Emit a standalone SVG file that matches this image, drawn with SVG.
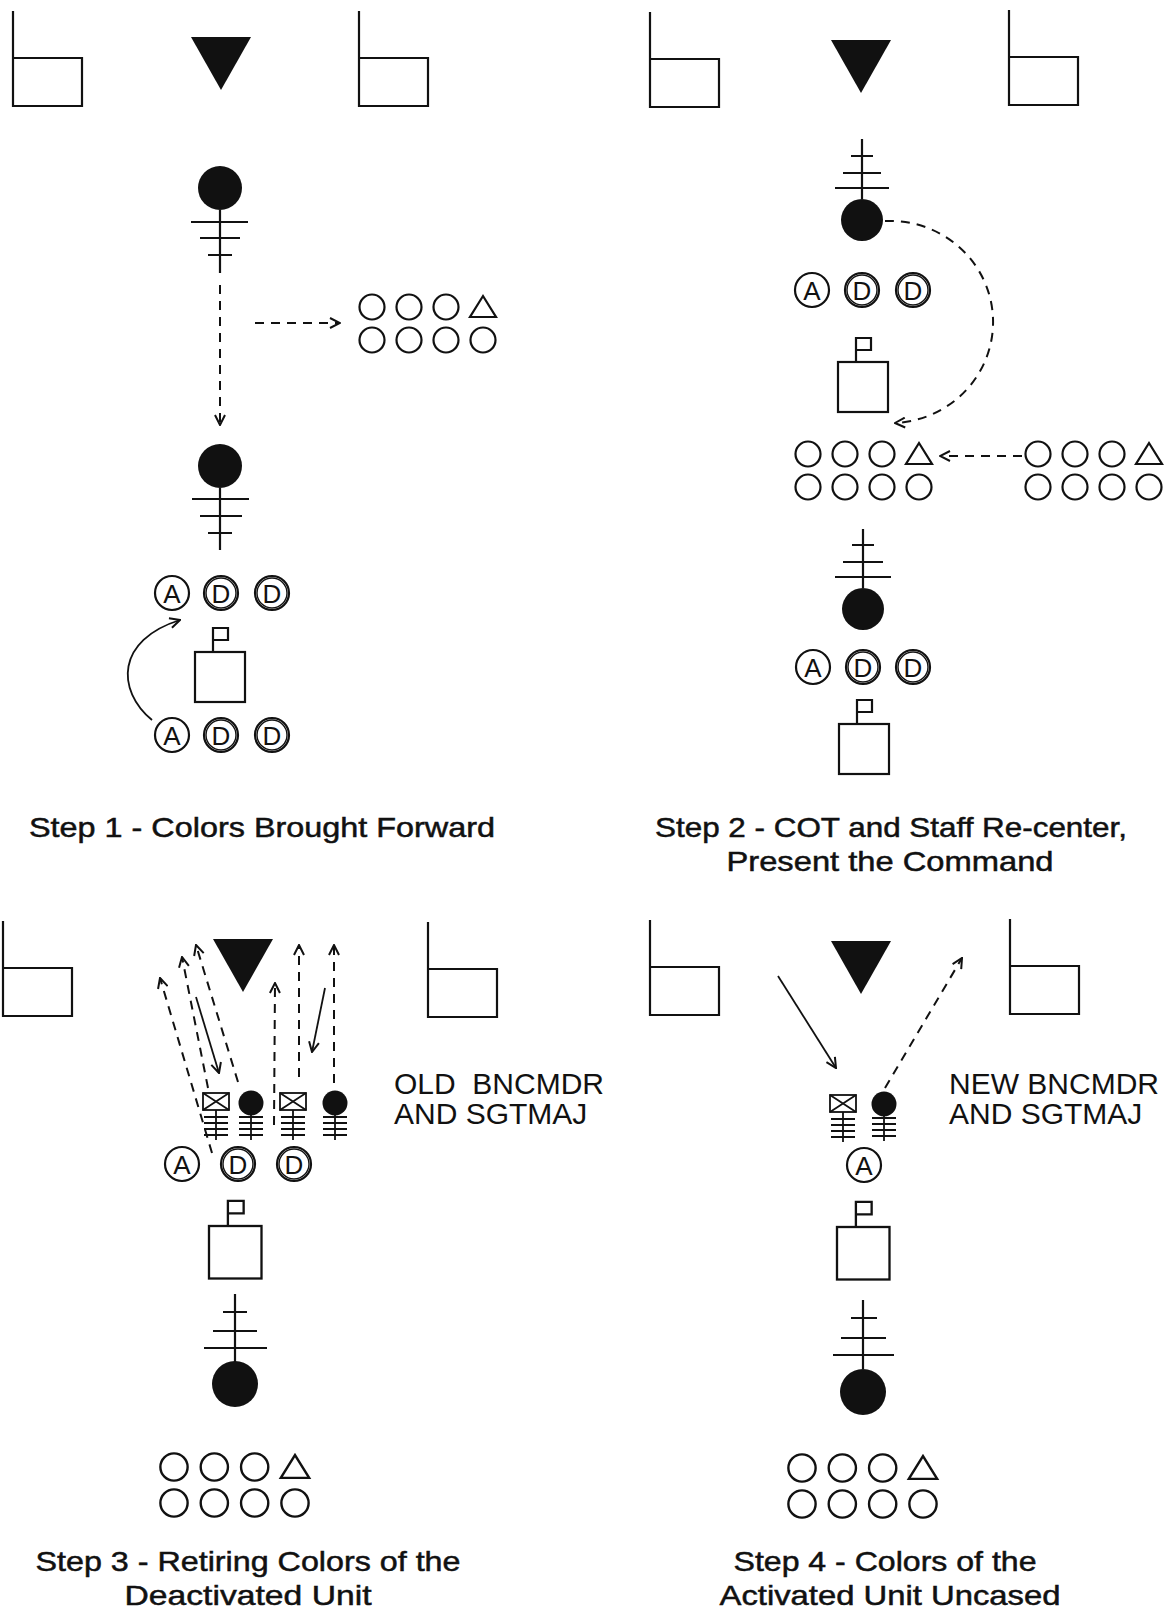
<svg xmlns="http://www.w3.org/2000/svg" width="1172" height="1610" viewBox="0 0 1172 1610">
<style>
.s{fill:none;stroke:#111;stroke-width:2.2}
.f{fill:#111}
.d{fill:none;stroke:#111;stroke-width:2;stroke-dasharray:9 7}
.a{fill:none;stroke:#111;stroke-width:1.8}
.l{fill:none;stroke:#111;stroke-width:1.8}
.t{font-family:"Liberation Sans",Arial,sans-serif;fill:#111}
.ttl{font-size:28px;text-anchor:middle;stroke:#111;stroke-width:0.5}
.lab{font-size:30px}
.cl{font-size:26px;text-anchor:middle}
</style>
<defs>
<marker id="ah" markerUnits="userSpaceOnUse" viewBox="0 0 12 12" refX="11" refY="6" markerWidth="12" markerHeight="12" orient="auto">
<path d="M1,1 L11,6 L1,11" fill="none" stroke="#111" stroke-width="2"/>
</marker>
<path id="flag" class="s" d="M0,-95 V0 H69 V-48 H0"/>
<path id="tri" class="f" d="M-30,0 H30 L0,53 Z"/>
<g id="plat"><rect class="s" x="0" y="0" width="50" height="50"/><path class="s" d="M18,0 V-24 H33 V-12 H18"/></g>
<g id="cA"><circle class="s" r="17"/><text class="t cl" y="9.5">A</text></g>
<g id="cD"><circle class="s" r="17"/><circle class="s" r="15" style="stroke-width:1.4"/><text class="t cl" y="9.5">D</text></g>
<g id="troop">
<circle class="s" cx="0" cy="0" r="12.5"/><circle class="s" cx="37" cy="0" r="12.5"/><circle class="s" cx="74" cy="0" r="12.5"/>
<path class="s" d="M98,10 H124 L111,-11 Z"/>
<circle class="s" cx="0" cy="33" r="12.5"/><circle class="s" cx="37" cy="33" r="12.5"/><circle class="s" cx="74" cy="33" r="12.5"/><circle class="s" cx="111" cy="33" r="12.5"/>
</g>
<g id="xbox"><rect class="l" x="0" y="0" width="26" height="17"/><path class="l" d="M0,0 L26,17 M26,0 L0,17 M13,17 V47 M1,24 H25 M1,30 H25 M1,36 H25 M1,42 H25"/></g>
<g id="dot"><circle class="f" r="12.5"/><path class="l" d="M0,12 V37 M-12,14 H12 M-12,20 H12 M-12,26 H12 M-12,32 H12"/></g>
</defs>
<rect x="0" y="0" width="1172" height="1610" fill="#fff"/>

<!-- Step 1 -->
<g id="s1-flag-left"><use href="#flag" x="13" y="106"/></g>
<g id="s1-reviewing"><use href="#tri" x="221" y="37"/></g>
<g id="s1-flag-right"><use href="#flag" x="359" y="106"/></g>
<g id="s1-cot-start"><circle class="f" cx="220" cy="188" r="22"/><path class="s" d="M220,210 V273 M191,222 H248 M200,238 H240 M208,255 H232"/></g>
<g id="s1-troops"><use href="#troop" transform="translate(372,307)"/></g>
<g id="s1-cot-end"><circle class="f" cx="220" cy="466" r="22"/><path class="s" d="M220,488 V550 M192,499 H249 M200,516 H242 M208,533 H232"/></g>
<g id="s1-colors-front"><use href="#cA" x="172" y="593"/><use href="#cD" x="221" y="593"/><use href="#cD" x="272" y="593"/></g>
<g id="s1-staff"><use href="#plat" x="195" y="652"/></g>
<g id="s1-colors-back"><use href="#cA" x="172" y="735"/><use href="#cD" x="221" y="735"/><use href="#cD" x="272" y="735"/></g>
<text class="t ttl" x="262" y="837" textLength="466" lengthAdjust="spacingAndGlyphs">Step 1 - Colors Brought Forward</text>

<!-- Step 2 -->
<g id="s2-flag-left"><use href="#flag" x="650" y="107"/></g>
<g id="s2-reviewing"><use href="#tri" x="861" y="40"/></g>
<g id="s2-flag-right"><use href="#flag" x="1009" y="105"/></g>
<g id="s2-cot-top"><path class="s" d="M862,139 V199 M851,156 H873 M843,173 H881 M835,188 H889"/><circle class="f" cx="862" cy="220" r="21"/></g>
<g id="s2-colors-top"><use href="#cA" x="812" y="290"/><use href="#cD" x="862" y="290"/><use href="#cD" x="913" y="290"/></g>
<g id="s2-staff-top"><use href="#plat" x="838" y="362"/></g>
<g id="s2-troops-left"><use href="#troop" transform="translate(808,454)"/></g>
<g id="s2-troops-right"><use href="#troop" transform="translate(1038,454)"/></g>
<g id="s2-cot-bottom"><path class="s" d="M863,529 V588 M852,545 H874 M843,562 H883 M835,577 H891"/><circle class="f" cx="863" cy="609" r="21"/></g>
<g id="s2-colors-bottom"><use href="#cA" x="813" y="667"/><use href="#cD" x="863" y="667"/><use href="#cD" x="913" y="667"/></g>
<g id="s2-staff-bottom"><use href="#plat" x="839" y="724"/></g>
<text class="t ttl" x="891" y="837" textLength="472" lengthAdjust="spacingAndGlyphs">Step 2 - COT and Staff Re-center,</text>
<text class="t ttl" x="890" y="871" textLength="327" lengthAdjust="spacingAndGlyphs">Present the Command</text>

<!-- Step 3 -->
<g id="s3-flag-left"><use href="#flag" x="3" y="1016"/></g>
<g id="s3-reviewing"><use href="#tri" x="243" y="939"/></g>
<g id="s3-flag-right"><use href="#flag" x="428" y="1017"/></g>
<g id="s3-old-commanders"><use href="#xbox" x="203" y="1093"/><use href="#dot" x="251" y="1103"/><use href="#xbox" x="280" y="1093"/><use href="#dot" x="335" y="1103"/></g>
<g id="s3-label"><text class="t lab" x="394" y="1094" xml:space="preserve">OLD  BNCMDR</text><text class="t lab" x="394" y="1124">AND SGTMAJ</text></g>
<g id="s3-colors"><use href="#cA" x="182" y="1164"/><use href="#cD" x="238" y="1164"/><use href="#cD" x="294" y="1164"/></g>
<g id="s3-staff"><use href="#plat" transform="translate(209,1226) scale(1.05)"/></g>
<g id="s3-cot"><path class="s" d="M235,1294 V1362 M223,1312 H247 M213,1331 H257 M204,1348 H267"/><circle class="f" cx="235" cy="1384" r="23"/></g>
<g id="s3-troops"><use href="#troop" transform="translate(174,1467) scale(1.09)"/></g>
<text class="t ttl" x="248" y="1571" textLength="425" lengthAdjust="spacingAndGlyphs">Step 3 - Retiring Colors of the</text>
<text class="t ttl" x="248" y="1605" textLength="247" lengthAdjust="spacingAndGlyphs">Deactivated Unit</text>

<!-- Step 4 -->
<g id="s4-flag-left"><use href="#flag" x="650" y="1015"/></g>
<g id="s4-reviewing"><use href="#tri" x="861" y="941"/></g>
<g id="s4-flag-right"><use href="#flag" x="1010" y="1014"/></g>
<g id="s4-new-commanders"><use href="#xbox" x="830" y="1095"/><use href="#dot" x="884" y="1104"/></g>
<g id="s4-label"><text class="t lab" x="949" y="1094">NEW BNCMDR</text><text class="t lab" x="949" y="1124">AND SGTMAJ</text></g>
<g id="s4-colors"><use href="#cA" x="864" y="1165"/></g>
<g id="s4-staff"><use href="#plat" transform="translate(837,1227) scale(1.05)"/></g>
<g id="s4-cot"><path class="s" d="M863,1300 V1369 M851,1318 H877 M841,1338 H886 M833,1355 H894"/><circle class="f" cx="863" cy="1392" r="23"/></g>
<g id="s4-troops"><use href="#troop" transform="translate(802,1468) scale(1.09)"/></g>
<text class="t ttl" x="885" y="1571" textLength="303" lengthAdjust="spacingAndGlyphs">Step 4 - Colors of the</text>
<text class="t ttl" x="890" y="1605" textLength="341" lengthAdjust="spacingAndGlyphs">Activated Unit Uncased</text>

<!-- connectors -->
<g id="connectors">
<path class="d" d="M220,285 V425" marker-end="url(#ah)"/>
<path class="d" d="M255,323 H340" marker-end="url(#ah)"/>
<path class="a" d="M152,720 C116,690 116,640 180,620" marker-end="url(#ah)"/>
<path class="d" d="M885,221 A103,101 0 0 1 895,423" marker-end="url(#ah)"/>
<path class="d" d="M1022,456 H940" marker-end="url(#ah)"/>
<path class="d" d="M212,1153 L160,978" marker-end="url(#ah)"/>
<path class="d" d="M208,1088 L182,957" marker-end="url(#ah)"/>
<path class="d" d="M238,1082 L196,945" marker-end="url(#ah)"/>
<path class="d" d="M274,1125 L275,983" marker-end="url(#ah)"/>
<path class="d" d="M299,1077 V945" marker-end="url(#ah)"/>
<path class="d" d="M334,1083 V945" marker-end="url(#ah)"/>
<path class="a" d="M196,997 L219,1073" marker-end="url(#ah)"/>
<path class="a" d="M325,988 L312,1052" marker-end="url(#ah)"/>
<path class="a" d="M778,976 L836,1068" marker-end="url(#ah)"/>
<path class="d" d="M885,1088 L962,958" marker-end="url(#ah)"/>
</g>
</svg>
